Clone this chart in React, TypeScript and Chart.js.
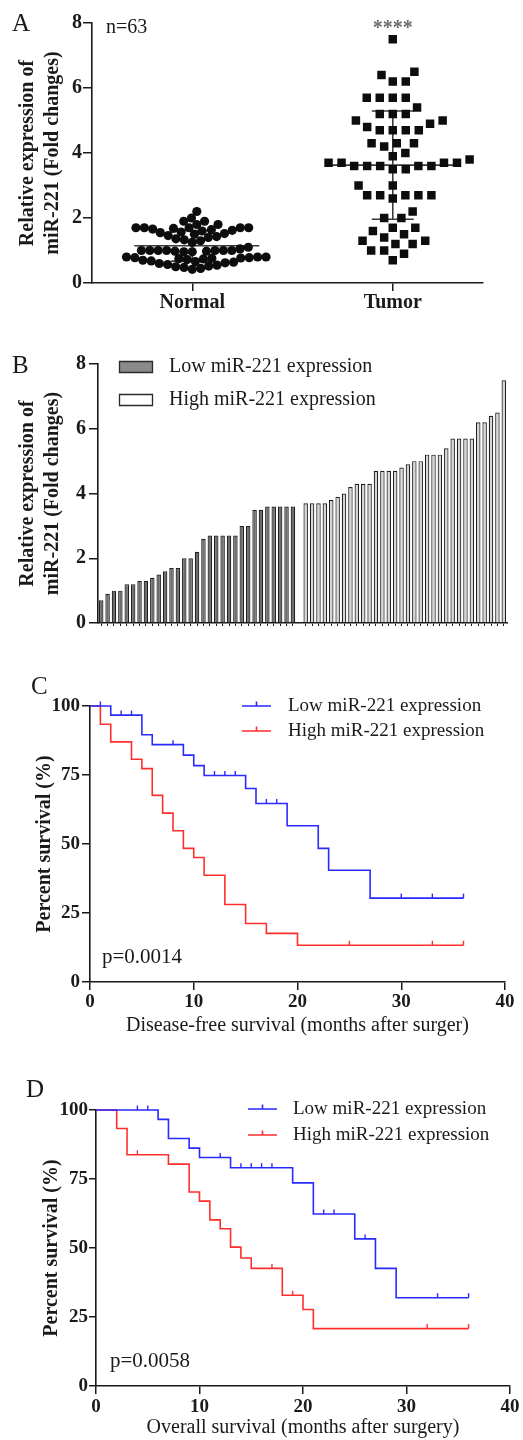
import React, { useEffect, useRef } from 'react';
import { Chart, registerables } from 'chart.js';

Chart.register(...registerables);

const FONT = "'Liberation Serif', 'Times New Roman', Times, serif";
const INK = '#1a1a1a';
const BLUE = '#2a2aff';
const RED = '#ff2e2e';

// ---------------- Panel A ----------------
const groupLabels = ['Normal', 'Tumor'];
const sampleSizeLabel = 'n=63';
const significanceLabel = '****';
const normalExpression = [
  2.2, 2.0, 1.9, 1.9, 1.8, 1.8,
  1.7, 1.7, 1.7, 1.7, 1.7, 1.68, 1.66, 1.64, 1.62, 1.6, 1.57, 1.55, 1.52, 1.5, 1.46, 1.43, 1.4, 1.36, 1.33, 1.3, 1.25,
  1.1, 1.05, 1.0, 1.0, 1.0, 1.0, 1.0, 1.0, 1.0, 0.98, 0.98, 0.96, 0.96,
  0.8, 0.8, 0.8, 0.78, 0.78, 0.77, 0.76, 0.75, 0.74, 0.72, 0.7, 0.68, 0.66, 0.64, 0.62, 0.6, 0.57, 0.55, 0.52, 0.5, 0.48, 0.45, 0.42,
];

// ---------------- Panel B (also the Tumor column of A) ----------------
const lowExpression = [0.7, 0.9, 1.0, 1.0, 1.2, 1.2, 1.3, 1.3, 1.4, 1.5, 1.6, 1.7, 1.7, 2.0, 2.0, 2.2, 2.6, 2.7, 2.7, 2.7, 2.7, 2.7, 3.0, 3.0, 3.5, 3.5, 3.6, 3.6, 3.6, 3.6, 3.6];
const highExpression = [3.7, 3.7, 3.7, 3.7, 3.8, 3.9, 4.0, 4.2, 4.3, 4.3, 4.3, 4.7, 4.7, 4.7, 4.7, 4.8, 4.9, 5.0, 5.0, 5.2, 5.2, 5.2, 5.4, 5.7, 5.7, 5.7, 5.7, 6.2, 6.2, 6.4, 6.5, 7.5];
const tumorExpression = [...lowExpression, ...highExpression];
const expressionTicks = [0, 2, 4, 6, 8];
const expressionTitle = ['Relative expression of', 'miR-221 (Fold changes)'];
const legendLabels = ['Low miR-221 expression', 'High miR-221 expression'];

// ---------------- Panels C / D ----------------
const survivalTicks = [0, 25, 50, 75, 100];
const monthTicks = [0, 10, 20, 30, 40];
const survivalTitle = 'Percent survival (%)';

const dfsLowTimes = [0, 2, 5, 6, 9, 10, 11, 15, 16, 19, 22, 23, 27, 36];
const dfsLowSurv = [100, 96.7, 89.6, 86.0, 82.2, 78.4, 74.8, 70.1, 64.7, 56.6, 48.4, 40.5, 30.4, 30.4];
const dfsLowCensor = [1, 3, 4, 8, 12, 13, 14, 17, 18, 30, 33, 36];
const dfsHighTimes = [0, 1, 2, 4, 5, 6, 7, 8, 9, 10, 11, 13, 15, 17, 20, 36];
const dfsHighSurv = [100, 93.4, 87.0, 80.7, 77.3, 67.6, 61.2, 54.8, 48.4, 45.1, 38.7, 28.1, 21.2, 17.6, 13.3, 13.3];
const dfsHighCensor = [25, 33, 36];
const dfsPValue = 'p=0.0014';
const dfsTitle = 'Disease-free survival (months after surger)';

const osLowTimes = [0, 6, 7, 9, 10, 13, 19, 21, 25, 27, 29, 36];
const osLowSurv = [100, 96.6, 89.7, 86.2, 82.8, 79.1, 73.6, 62.3, 53.3, 42.6, 32.0, 32.0];
const osLowCensor = [4, 5, 12, 14, 15, 16, 17, 22, 23, 26, 33, 36];
const osHighTimes = [0, 2, 3, 7, 9, 10, 11, 12, 13, 14, 15, 18, 20, 21, 36];
const osHighSurv = [100, 93.3, 83.8, 80.4, 70.3, 67.0, 60.2, 57.0, 50.3, 46.4, 42.6, 32.9, 27.7, 20.8, 20.8];
const osHighCensor = [4, 17, 19, 32, 36];
const osPValue = 'p=0.0058';
const osTitle = 'Overall survival (months after surgery)';

// ---------------- helpers ----------------
function beeswarm(values: number[], pxPerUnit: number, d: number): number[] {
  const order = values.map((_, i) => i).sort((a, b) => values[a] - values[b]);
  const placed: { x: number; y: number }[] = [];
  const out = new Array(values.length).fill(0);
  let flip = 1;
  for (const i of order) {
    const y = values[i] * pxPerUnit;
    const cands = [0];
    for (const p of placed) {
      const dy = Math.abs(p.y - y);
      if (dy < d) {
        const dx = Math.sqrt(d * d - dy * dy) + 0.01;
        cands.push(p.x + dx, p.x - dx);
      }
    }
    cands.sort((a, b) => Math.abs(a) - Math.abs(b) || (a - b) * flip);
    let best = 0;
    for (const c of cands) {
      if (placed.every((p) => (p.x - c) ** 2 + (p.y - y) ** 2 >= d * d - 0.05)) {
        best = c;
        break;
      }
    }
    flip = -flip;
    placed.push({ x: best, y });
    out[i] = best;
  }
  return out;
}

function meanSd(vals: number[]) {
  const n = vals.length;
  const m = vals.reduce((s, v) => s + v, 0) / n;
  const sd = Math.sqrt(vals.reduce((s, v) => s + (v - m) ** 2, 0) / (n - 1));
  return { m, sd };
}

function survivalAt(times: number[], surv: number[], t: number) {
  let s = surv[0];
  for (let i = 0; i < times.length; i++) if (times[i] <= t) s = surv[i];
  return s;
}

function font(size: number, weight = 'normal') {
  return `${weight} ${size}px ${FONT}`;
}

function yScale(ticksArr: number[], title: string | string[], o: any) {
  return {
    type: 'linear',
    min: ticksArr[0],
    max: ticksArr[ticksArr.length - 1],
    afterBuildTicks: (s: any) => {
      s.ticks = ticksArr.map((v) => ({ value: v }));
    },
    afterFit: (s: any) => {
      s.width = o.width;
      s.paddingTop = 0;
      s.paddingBottom = 0;
    },
    grid: { display: true, drawOnChartArea: false, drawTicks: true, tickLength: o.tickLength, color: INK, lineWidth: 1.5 },
    border: { display: true, color: INK, width: 1.6 },
    ticks: { color: INK, padding: o.pad, font: { family: FONT, size: o.fontSize, weight: 'bold' } },
    title: {
      display: true,
      text: title,
      color: INK,
      font: { family: FONT, size: 20, weight: 'bold', lineHeight: 1.25 },
      padding: { top: o.titlePad, bottom: 0 },
    },
  };
}

function xFit(height: number) {
  return (s: any) => {
    s.height = height;
    s.paddingLeft = 0;
    s.paddingRight = 0;
  };
}

const baseOptions = {
  responsive: false,
  animation: false,
  events: [],
};

// ---------------- Panel A ----------------
const A_W = 523, A_H = 330;
const A_PAD = { left: 8, right: 40, top: 23, bottom: 0 };
const A_YW = 84, A_XH = 47;
const A_XMAX = 3.9;
const groupPositions = groupLabels.map((_, i) => 1 + 2 * i);
const groupValues = [normalExpression, tumorExpression];

function makeA() {
  const plotW = A_W - A_PAD.left - A_PAD.right - A_YW;
  const plotH = A_H - A_PAD.top - A_PAD.bottom - A_XH;
  const pxX = plotW / A_XMAX;
  const pxY = plotH / expressionTicks[expressionTicks.length - 1];
  const swarmD = [8.4, 13];
  const datasets = groupValues.map((vals, g) => {
    const offs = beeswarm(vals, pxY, swarmD[g]);
    return {
      type: 'scatter',
      data: vals.map((v, i) => ({ x: groupPositions[g] + offs[i] / pxX, y: v })),
      pointStyle: g === 0 ? 'circle' : 'rect',
      pointRadius: g === 0 ? 4.6 : 6,
      backgroundColor: '#0d0d0d',
      borderColor: '#0d0d0d',
      borderWidth: 0,
      clip: false,
    };
  });
  const statsPlugin = {
    id: 'stats',
    beforeDatasetsDraw(chart: any) {
      const { ctx, scales } = chart;
      const x = scales.x, y = scales.y;
      ctx.save();
      ctx.strokeStyle = '#3a3a3a';
      ctx.lineWidth = 1.6;
      const halves = [[58, 67], [66, 68]];
      groupValues.forEach((vals, g) => {
        const { m, sd } = meanSd(vals);
        const cx = x.getPixelForValue(groupPositions[g]);
        const seg = (x1: number, y1: number, x2: number, y2: number) => {
          ctx.beginPath();
          ctx.moveTo(x1, y1);
          ctx.lineTo(x2, y2);
          ctx.stroke();
        };
        const ym = y.getPixelForValue(m);
        seg(cx - halves[g][0], ym, cx + halves[g][1], ym);
        const yt = y.getPixelForValue(m + sd), yb = y.getPixelForValue(m - sd);
        seg(cx, yt, cx, yb);
        seg(cx - 21, yt, cx + 21, yt);
        seg(cx - 21, yb, cx + 21, yb);
      });
      ctx.restore();
    },
    afterDraw(chart: any) {
      const { ctx, scales } = chart;
      ctx.save();
      ctx.fillStyle = INK;
      ctx.textBaseline = 'middle';
      ctx.textAlign = 'left';
      ctx.font = font(25);
      ctx.fillText('A', 12, 24);
      ctx.font = font(20);
      ctx.fillText(sampleSizeLabel, 106, 28);
      ctx.textAlign = 'center';
      ctx.fillStyle = '#6a6a6a';
      ctx.font = font(20, 'bold');
      ctx.fillText(significanceLabel, scales.x.getPixelForValue(groupPositions[1]), 29);
      ctx.restore();
    },
  };
  return {
    data: { datasets },
    options: {
      ...baseOptions,
      layout: { padding: A_PAD },
      plugins: { legend: { display: false }, tooltip: { enabled: false } },
      scales: {
        x: {
          type: 'linear',
          min: 0,
          max: A_XMAX,
          afterBuildTicks: (s: any) => {
            s.ticks = groupPositions.map((v) => ({ value: v }));
          },
          afterFit: xFit(A_XH),
          grid: { display: true, drawOnChartArea: false, drawTicks: true, tickLength: 8, color: INK, lineWidth: 1.5 },
          border: { display: true, color: INK, width: 1.6 },
          ticks: {
            color: INK,
            padding: 0,
            maxRotation: 0,
            font: { family: FONT, size: 20, weight: 'bold' },
            callback: (v: number) => groupLabels[groupPositions.indexOf(v)] ?? '',
          },
        },
        y: yScale(expressionTicks, expressionTitle, { width: A_YW, tickLength: 9, pad: 1, titlePad: 7.5, fontSize: 20 }),
      },
    },
    plugins: [statsPlugin],
  };
}

// ---------------- Panel B ----------------
function makeB() {
  const gapIndex = lowExpression.length;
  const labels = [...lowExpression.map(() => ''), '', ...highExpression.map(() => '')];
  const lowData = [...lowExpression, null, ...highExpression.map(() => null)];
  const highData = [...lowExpression.map(() => null), null, ...highExpression];
  const legendPlugin = {
    id: 'legendB',
    afterDraw(chart: any) {
      const { ctx } = chart;
      ctx.save();
      ctx.fillStyle = INK;
      ctx.textBaseline = 'middle';
      ctx.font = font(25);
      ctx.fillText('B', 12, 26);
      const rows = [
        { y: 27, fill: '#8a8a8a' },
        { y: 60, fill: '#ffffff' },
      ];
      rows.forEach((r, i) => {
        ctx.fillStyle = r.fill;
        ctx.strokeStyle = '#2a2a2a';
        ctx.lineWidth = 1.3;
        ctx.beginPath();
        ctx.rect(119.5, r.y - 5.5, 33, 11);
        ctx.fill();
        ctx.stroke();
        ctx.fillStyle = INK;
        ctx.font = font(20);
        ctx.fillText(legendLabels[i], 169, r.y);
      });
      ctx.restore();
    },
  };
  const barCommon = {
    type: 'bar',
    grouped: false,
    barPercentage: 0.7,
    categoryPercentage: 1,
    borderWidth: 1.2,
    borderColor: '#202020',
    borderSkipped: 'bottom',
  };
  return {
    data: {
      labels,
      datasets: [
        { ...barCommon, label: legendLabels[0], data: lowData, backgroundColor: '#6c6c6c' },
        { ...barCommon, label: legendLabels[1], data: highData, backgroundColor: '#d6d6d6' },
      ],
    },
    options: {
      ...baseOptions,
      layout: { padding: { left: 8, right: 16, top: 24, bottom: 0 } },
      plugins: { legend: { display: false }, tooltip: { enabled: false } },
      scales: {
        x: {
          type: 'category',
          offset: true,
          afterFit: xFit(17),
          grid: {
            display: true,
            drawOnChartArea: false,
            drawTicks: true,
            tickLength: 3,
            offset: false,
            lineWidth: 1,
            color: (c: any) => (c.index === gapIndex ? 'rgba(0,0,0,0)' : INK),
          },
          border: { display: true, color: INK, width: 1.6 },
          ticks: { display: true, autoSkip: false, maxRotation: 0, padding: 0, font: { family: FONT, size: 10 } },
        },
        y: yScale(expressionTicks, expressionTitle, { width: 90, tickLength: 9, pad: 3, titlePad: 7.5, fontSize: 20 }),
      },
    },
    plugins: [legendPlugin],
  };
}

// ---------------- Panels C / D ----------------
function makeKM(cfg: any) {
  const series = [
    { times: cfg.lowTimes, surv: cfg.lowSurv, censor: cfg.lowCensor, color: BLUE },
    { times: cfg.highTimes, surv: cfg.highSurv, censor: cfg.highCensor, color: RED },
  ];
  const datasets: any[] = [];
  series.forEach((s) => {
    datasets.push({
      type: 'line',
      data: s.times.map((t: number, i: number) => ({ x: t, y: s.surv[i] })),
      stepped: true,
      borderColor: s.color,
      borderWidth: 1.6,
      pointRadius: 0,
      fill: false,
      clip: false,
    });
    datasets.push({
      type: 'scatter',
      data: s.censor.map((t: number) => ({ x: t, y: survivalAt(s.times, s.surv, t) })),
      pointStyle: 'dash',
      rotation: -90,
      pointRadius: 4.5,
      borderColor: s.color,
      backgroundColor: s.color,
      borderWidth: 1.4,
      clip: false,
    });
  });
  const annot = {
    id: 'annotKM',
    afterDraw(chart: any) {
      const { ctx, chartArea } = chart;
      ctx.save();
      ctx.fillStyle = INK;
      ctx.textBaseline = 'middle';
      ctx.textAlign = 'left';
      ctx.font = font(25);
      ctx.fillText(cfg.panel, cfg.panelX, cfg.panelY);
      ctx.textBaseline = 'alphabetic';
      ctx.font = font(21);
      ctx.fillText(cfg.pValue, cfg.pX, chartArea.bottom - 19);
      series.forEach((s, i) => {
        const y = cfg.legendY[i];
        ctx.strokeStyle = s.color;
        ctx.lineWidth = 1.6;
        ctx.beginPath();
        ctx.moveTo(cfg.sampleX[0], y);
        ctx.lineTo(cfg.sampleX[1], y);
        const mid = (cfg.sampleX[0] + cfg.sampleX[1]) / 2;
        ctx.moveTo(mid, y);
        ctx.lineTo(mid, y - 4.5);
        ctx.stroke();
        ctx.fillStyle = INK;
        ctx.textBaseline = 'middle';
        ctx.font = font(19);
        ctx.fillText(legendLabels[i], cfg.textX, y);
      });
      ctx.restore();
    },
  };
  return {
    data: { datasets },
    options: {
      ...baseOptions,
      layout: { padding: cfg.padding },
      plugins: { legend: { display: false }, tooltip: { enabled: false } },
      scales: {
        x: {
          type: 'linear',
          min: monthTicks[0],
          max: monthTicks[monthTicks.length - 1],
          afterBuildTicks: (s: any) => {
            s.ticks = monthTicks.map((v) => ({ value: v }));
          },
          afterFit: xFit(cfg.xHeight),
          grid: { display: true, drawOnChartArea: false, drawTicks: true, tickLength: 8, color: INK, lineWidth: 1.5 },
          border: { display: true, color: INK, width: 1.6 },
          ticks: { color: INK, padding: cfg.xPad, maxRotation: 0, font: { family: FONT, size: 19, weight: 'bold' } },
          title: {
            display: true,
            text: cfg.xTitle,
            color: INK,
            font: { family: FONT, size: 20, lineHeight: 1.25 },
            padding: { top: 0, bottom: cfg.xTitlePad },
          },
        },
        y: yScale(survivalTicks, survivalTitle, { width: cfg.yWidth, tickLength: cfg.yTick, pad: cfg.yPad, titlePad: cfg.yTitlePad, fontSize: 19 }),
      },
    },
    plugins: [annot],
  };
}

const makeC = () =>
  makeKM({
    lowTimes: dfsLowTimes, lowSurv: dfsLowSurv, lowCensor: dfsLowCensor,
    highTimes: dfsHighTimes, highSurv: dfsHighSurv, highCensor: dfsHighCensor,
    pValue: dfsPValue, xTitle: dfsTitle, panel: 'C', panelX: 31, panelY: 37,
    padding: { left: 8, right: 18, top: 56, bottom: 0 },
    xHeight: 58, xPad: 1, xTitlePad: 1.5, yWidth: 82, yTick: 8, yPad: 2, yTitlePad: 24.5,
    pX: 102, legendY: [56, 81], sampleX: [242, 271], textX: 288,
  });

const makeD = () =>
  makeKM({
    lowTimes: osLowTimes, lowSurv: osLowSurv, lowCensor: osLowCensor,
    highTimes: osHighTimes, highSurv: osHighSurv, highCensor: osHighCensor,
    pValue: osPValue, xTitle: osTitle, panel: 'D', panelX: 26, panelY: 45,
    padding: { left: 8, right: 13, top: 65, bottom: 0 },
    xHeight: 54, xPad: 2, xTitlePad: 0, yWidth: 88, yTick: 7, yPad: 1, yTitlePad: 31.5,
    pX: 110, legendY: [64, 90], sampleX: [248, 277], textX: 293,
  });

function Panel({ top, height, make }: { top: number; height: number; make: () => any }) {
  const ref = useRef<HTMLCanvasElement>(null);
  useEffect(() => {
    const chart = new Chart(ref.current as HTMLCanvasElement, make());
    return () => chart.destroy();
  }, []);
  return (
    <div style={{ position: 'absolute', left: 0, top, width: 523, height }}>
      <canvas ref={ref} width={523} height={height} style={{ width: 523, height }} />
    </div>
  );
}

export default function App() {
  return (
    <div style={{ position: 'absolute', left: 0, top: 0, width: 523, height: 1440, background: '#ffffff', overflow: 'hidden' }}>
      <Panel top={0} height={330} make={makeA} />
      <Panel top={340} height={300} make={makeB} />
      <Panel top={650} height={390} make={makeC} />
      <Panel top={1045} height={395} make={makeD} />
    </div>
  );
}
